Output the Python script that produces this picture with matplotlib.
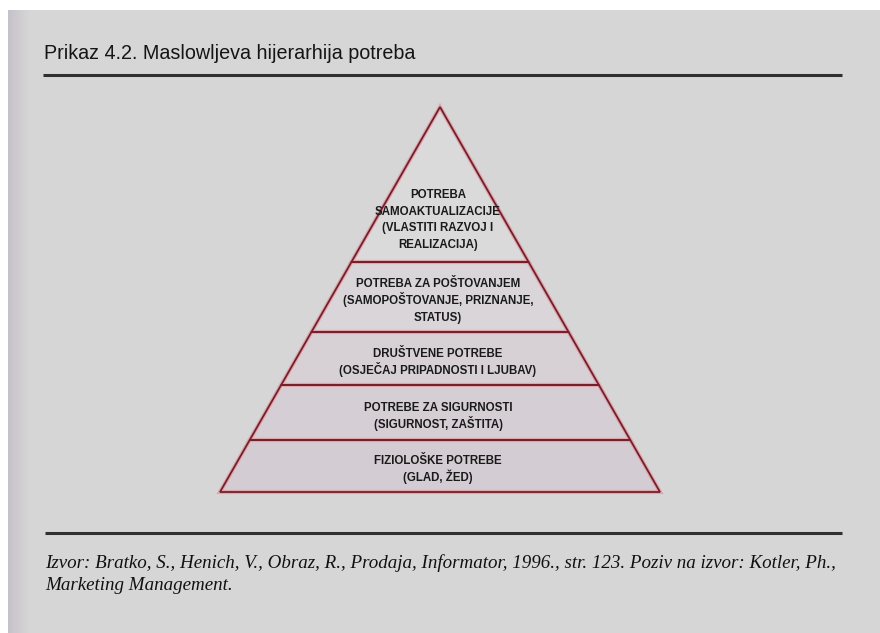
import matplotlib
matplotlib.use("Agg")
import matplotlib.pyplot as plt
from matplotlib.patches import Polygon, Rectangle
from matplotlib import font_manager
import numpy as np

# --- content ---
title = "Prikaz 4.2. Maslowljeva hijerarhija potreba"
level_labels = [
    "POTREBA\nSAMOAKTUALIZACIJE\n(VLASTITI RAZVOJ I\nREALIZACIJA)",
    "POTREBA ZA POŠTOVANJEM\n(SAMOPOŠTOVANJE, PRIZNANJE,\nSTATUS)",
    "DRUŠTVENE POTREBE\n(OSJEČAJ PRIPADNOSTI I LJUBAV)",
    "POTREBE ZA SIGURNOSTI\n(SIGURNOST, ZAŠTITA)",
    "FIZIOLOŠKE POTREBE\n(GLAD, ŽED)",
]
# relative height of each level, top to bottom
level_heights = [155, 70, 53, 55, 52]
source_lines = [
    "Izvor: Bratko, S., Henich, V., Obraz, R., Prodaja, Informator, 1996., str. 123. Poziv na izvor: Kotler, Ph.,",
    "Marketing Management.",
]

# --- fonts ---
names = {f.name for f in font_manager.fontManager.ttflist}
narrow = "Liberation Sans Narrow" if "Liberation Sans Narrow" in names else "Liberation Sans"
serif = "Liberation Serif"

W, H = 880, 633
fig = plt.figure(figsize=(W / 100, H / 100), dpi=100, facecolor="white")
ax = fig.add_axes([0, 0, 1, 1])
ax.set_xlim(0, W)
ax.set_ylim(H, 0)
ax.axis("off")

bg = "#d6d6d6"
ax.add_patch(Rectangle((8, 10), W, H, facecolor=bg, edgecolor="none", zorder=0))
# scanned page edge shadow
for i, a in enumerate(np.linspace(0.35, 0.0, 22)):
    ax.add_patch(Rectangle((8 + i, 10), 1, H, facecolor="#a89cb4", alpha=a,
                           edgecolor="none", zorder=0.5))

renderer = fig.canvas.get_renderer()


def fit_width(t, target):
    w = t.get_window_extent(renderer).width
    t.set_fontsize(t.get_fontsize() * target / w)


# title and rules
t = ax.text(44, 59, title, fontsize=15, family=narrow, color="#151515",
            ha="left", va="baseline")
fit_width(t, 370)
ax.plot([43, 842], [75, 75], color="#303030", lw=2.2, solid_capstyle="butt")
ax.plot([45, 842], [533, 533], color="#303030", lw=2.2, solid_capstyle="butt")

# pyramid
apex_x, apex_y, base_y, half_base = 440, 107, 492, 220
bounds = np.concatenate([[0], np.cumsum(level_heights)])
bounds = apex_y + bounds / bounds[-1] * (base_y - apex_y)


def half_w(y):
    return (y - apex_y) / (base_y - apex_y) * half_base


line_col = "#74202b"
fills = ["#dadada", "#d9d5d8", "#d7d1d6", "#d5ced4", "#d3ccd2"]
line_step = 16.7
for i, label in enumerate(level_labels):
    y0, y1 = bounds[i], bounds[i + 1]
    if i == 0:
        pts = [(apex_x, y0), (apex_x + half_w(y1), y1), (apex_x - half_w(y1), y1)]
    else:
        pts = [(apex_x - half_w(y0), y0), (apex_x + half_w(y0), y0),
               (apex_x + half_w(y1), y1), (apex_x - half_w(y1), y1)]
    ax.add_patch(Polygon(pts, closed=True, facecolor=fills[i], edgecolor="#dfa6ae",
                         lw=3.0, zorder=1, joinstyle="miter"))
    ax.add_patch(Polygon(pts, closed=True, facecolor="none", edgecolor=line_col,
                         lw=1.3, zorder=2, joinstyle="miter"))
    if i == 0:
        ty = y1 - 0.28 * (y1 - y0)
    else:
        ty = (y0 + y1) / 2 + 2.5
    rows = label.split("\n")
    for j, row in enumerate(rows):
        yy = ty + (j - (len(rows) - 1) / 2) * line_step + 4.3
        ax.text(apex_x - 2, yy, row, ha="center", va="baseline",
                fontsize=8.3, fontweight="bold", family=narrow, color="#1a1a1a",
                zorder=3)

# source note
s1 = ax.text(45, 568, source_lines[0], fontsize=13, family=serif, style="italic",
             color="#111111", ha="left", va="baseline")
fit_width(s1, 792)
ax.text(45, 590, source_lines[1], fontsize=s1.get_fontsize(), family=serif,
        style="italic", color="#111111", ha="left", va="baseline")

fig.savefig("out.png", dpi=100, facecolor="white")
